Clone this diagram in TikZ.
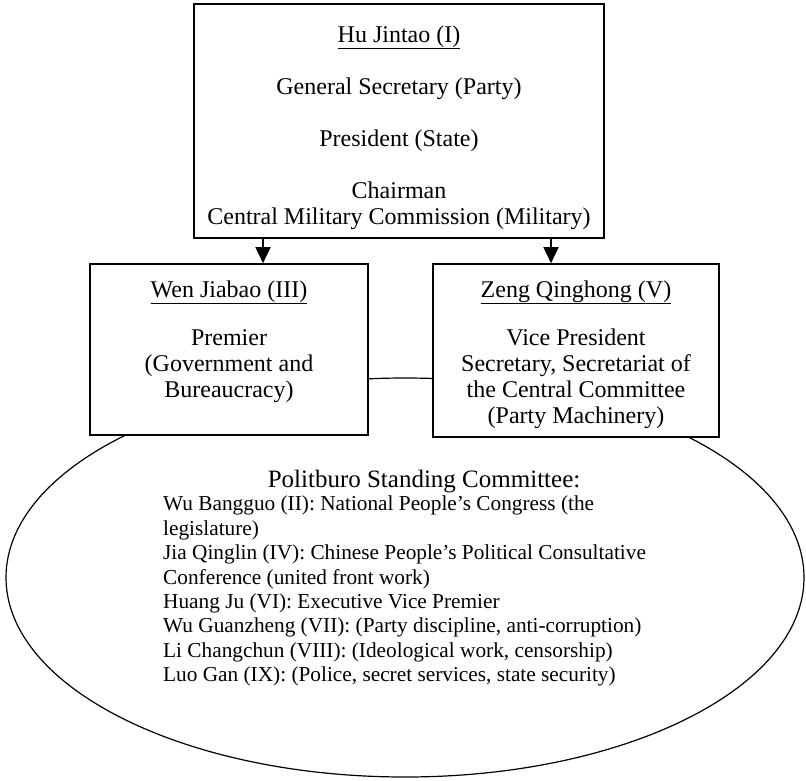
\documentclass[tikz,border=0pt]{standalone}
\usepackage{fontspec}
\setmainfont{Liberation Serif}
\usetikzlibrary{positioning,shapes.geometric,arrows.meta}

\begin{document}
\begin{tikzpicture}[
  x=1pt, y=-1pt,
  box/.style={draw, rectangle, line width=1.6pt, fill=white, inner sep=0pt},
  boxtext/.style={align=center, inner sep=0pt, font=\fontsize{24}{26}\selectfont},
  link/.style={line width=1.6pt, -{Triangle[length=16pt,width=15pt]}}
]
\useasboundingbox (0,0) rectangle (806,780);

% standing committee
\node[draw, ellipse, line width=1.2pt, minimum width=798pt, minimum height=399pt, inner sep=0pt] (psc) at (405,577.5) {};

% leaders
\node[box, minimum width=410pt, minimum height=234pt] (hu) at (399,121) {};
\node[box, minimum width=278pt, minimum height=171pt] (wen) at (229,349.5) {};
\node[box, minimum width=286pt, minimum height=173pt] (zeng) at (576,350.5) {};

\node[boxtext, below=22pt of hu.north] (hutext) {\underline{Hu Jintao (I)}\\[26pt]
  General Secretary (Party)\\[26pt]
  President (State)\\[26pt]
  Chairman\\
  Central Military Commission (Military)};
\node[boxtext, below=17pt of wen.north] (wentext) {\underline{Wen Jiabao (III)}\\[22pt]
  Premier\\
  (Government and\\
  Bureaucracy)};
\node[boxtext, below=17pt of zeng.north] (zengtext) {\underline{Zeng Qinghong (V)}\\[22pt]
  Vice President\\
  Secretary, Secretariat of\\
  the Central Committee\\
  (Party Machinery)};

\coordinate (a1) at (263,0);
\coordinate (a2) at (551,0);
\draw[link] (hu.south -| a1) -- (wen.north -| a1);
\draw[link] (hu.south -| a2) -- (zeng.north -| a2);

% members
\node[font=\fontsize{25}{27}\selectfont, inner sep=0pt, anchor=north] (psctitle) at (424,470) {Politburo Standing Committee:};
\node[font=\fontsize{21.3}{24.4}\selectfont, align=left, inner sep=0pt, anchor=north west] (psclist) at (163,496) {Wu Bangguo (II): National People’s Congress (the\\
  legislature)\\
  Jia Qinglin (IV): Chinese People’s Political Consultative\\
  Conference (united front work)\\
  Huang Ju (VI): Executive Vice Premier\\
  Wu Guanzheng (VII): (Party discipline, anti-corruption)\\
  Li Changchun (VIII): (Ideological work, censorship)\\
  Luo Gan (IX): (Police, secret services, state security)};
\end{tikzpicture}
\end{document}
